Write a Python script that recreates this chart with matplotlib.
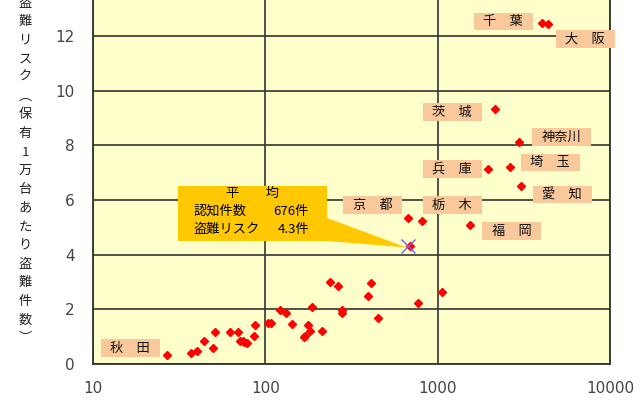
import numpy as np
import matplotlib.pyplot as plt
from matplotlib.patches import Rectangle, Polygon
from matplotlib.transforms import IdentityTransform

plt.rcParams['font.family'] = ['Noto Sans CJK JP', 'DejaVu Sans']

# recognised thefts (count) and theft risk per 10,000 vehicles
counts = [27, 37, 40, 44, 50, 51, 62, 69, 71, 74, 75, 78, 86, 87,
          104, 108, 122, 131, 143, 167, 171, 178, 181, 186, 214, 236,
          264, 278, 278, 395, 409, 452, 766, 1054,
          4010, 4350, 2140, 2945, 1967, 2636, 3040, 674, 807, 1531, 690]
risk = [0.33, 0.40, 0.46, 0.84, 0.57, 1.17, 1.17, 1.17, 0.83, 0.85, 0.80, 0.77, 1.01, 1.41,
        1.51, 1.51, 1.99, 1.85, 1.47, 0.98, 1.02, 1.44, 1.20, 2.08, 1.21, 2.99,
        2.84, 1.99, 1.86, 2.48, 2.95, 1.69, 2.23, 2.64,
        12.47, 12.44, 9.31, 8.12, 7.13, 7.21, 6.52, 5.33, 5.22, 5.08, 4.30]

avg_count = 676
avg_risk = 4.3

# prefecture labels and where their boxes sit (data coords)
names = ['千　葉', '大　阪', '茨　城', '神奈川', '埼　玉', '兵　庫',
         '愛　知', '京　都', '栃　木', '福　岡', '秋　田']
name_x = [2400, 7180, 1216, 5210, 4500, 1216, 5270, 419, 1216, 2690, 16.4]
name_y = [12.52, 11.88, 9.21, 8.30, 7.36, 7.13, 6.19, 5.81, 5.81, 4.86, 0.585]

yticks = [0, 2, 4, 6, 8, 10, 12]
xticks = [10, 100, 1000, 10000]
xticklabels = ['10', '100', '1000', '10000']
ylabel = ['盗', '難', 'リ', 'ス', 'ク', '︵', '保', '有', '1', '万', '台', 'あ',
          'た', 'り', '盗', '難', '件', '数', '︶']

fig = plt.figure(figsize=(6.4, 4), dpi=100)
ax = fig.add_axes([93 / 640, 36 / 400, 517 / 640, 364 / 400])
ax.set_facecolor('#FFFFCC')
ax.set_xscale('log')
ax.set_xlim(10, 10000)
ax.set_ylim(0, 13.31)

ax.set_xticks(xticks)
ax.set_xticklabels(xticklabels)
ax.minorticks_off()
ax.set_yticks(yticks)
ax.tick_params(length=0, labelsize=11, labelcolor='#444444')
ax.tick_params(axis='x', pad=12)
ax.tick_params(axis='y', pad=13)
for lab in ax.get_xticklabels() + ax.get_yticklabels():
    lab.set_family('DejaVu Sans')

ax.grid(True, color='#333333', linewidth=1.2)
ax.set_axisbelow(True)
ax.spines['top'].set_visible(False)
for s in ['left', 'bottom', 'right']:
    ax.spines[s].set_color('#333333')
    ax.spines[s].set_linewidth(1.3)

ax.plot(counts, risk, 'D', color='#FF0000', markersize=4.5, linestyle='none', zorder=3)
ax.plot([avg_count], [avg_risk], 'x', color='#6666EE', markersize=10,
        markeredgewidth=1.0, zorder=4)

# label boxes, fixed pixel size
idt = IdentityTransform()
for n, x, y in zip(names, name_x, name_y):
    cx, cy = ax.transData.transform((x, y))
    fig.patches.append(Rectangle((cx - 29.5, cy - 8.75), 59, 17.5,
                                 facecolor='#F9C89B', edgecolor='none',
                                 transform=idt, zorder=5))
    fig.text(cx, cy, n, transform=idt, ha='center', va='center',
             fontsize=9.5, color='#111111', zorder=6)

# callout for the average
ax_, ay_ = ax.transData.transform((avg_count, avg_risk))
H = 400
box = [(178, H - 186), (327, H - 186), (327, H - 218), (ax_ - 2, ay_ - 1),
       (327, H - 241), (178, H - 241)]
fig.patches.append(Polygon(box, closed=True, facecolor='#FFC800',
                           edgecolor='none', transform=idt, zorder=5))
fig.text(252, H - 193, '平　　均', transform=idt, ha='center', va='center',
         fontsize=9.5, zorder=6)
fig.text(193, H - 211, '認知件数', transform=idt, ha='left', va='center',
         fontsize=9.5, zorder=6)
fig.text(309, H - 211, '%d件' % avg_count, transform=idt, ha='right',
         va='center', fontsize=9.5, zorder=6)
fig.text(193, H - 229, '盗難リスク', transform=idt, ha='left', va='center',
         fontsize=9.5, zorder=6)
fig.text(309, H - 229, '%.1f件' % avg_risk, transform=idt, ha='right',
         va='center', fontsize=9.5, zorder=6)

# vertical y label, one character per row
for i, ch in enumerate(ylabel):
    fig.text(25, H - (3 + 18.65 * i), ch, transform=idt, ha='center',
             va='center', fontsize=9.5, color='#222222')

fig.savefig('out.png', dpi=100)
